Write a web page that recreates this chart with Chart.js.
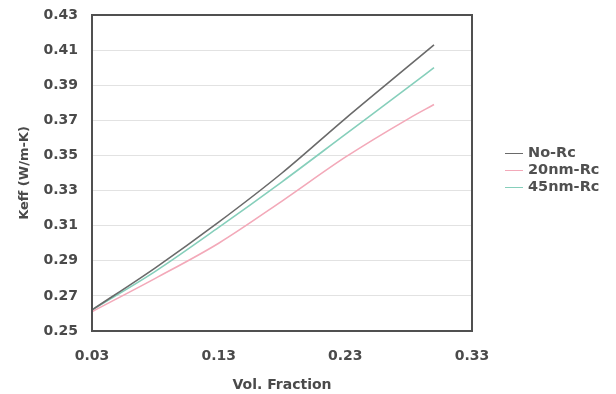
<!DOCTYPE html>
<html>
<head>
<meta charset="utf-8">
<script src="https://cdn.jsdelivr.net/npm/chart.js@4"></script>
<style>
  html, body { margin: 0; padding: 0; background: #fff; }
  #wrap { position: relative; width: 616px; height: 394px; overflow: hidden; }
  #legend { position: absolute; left: 505px; top: 144px; font: bold 14.5px 'DejaVu Sans', sans-serif; color: #505050; white-space: nowrap; }
  #legend div { height: 17px; line-height: 17px; }
  #legend span.swatch { display: inline-block; width: 18px; height: 0; border-top: 1.5px solid; vertical-align: middle; margin-right: 5px; }
</style>
</head>
<body>
<div id="wrap">
  <canvas id="keffChart" width="616" height="394"></canvas>
  <div id="legend"></div>
</div>
<script>
// volume fraction samples and Keff for each interface resistance case
const volFraction = [0.03, 0.08, 0.13, 0.18, 0.23, 0.28, 0.30];
const noRc    = [0.262, 0.286, 0.312, 0.340, 0.371, 0.401, 0.413];
const rc20nm  = [0.261, 0.280, 0.300, 0.324, 0.349, 0.371, 0.379];
const rc45nm  = [0.262, 0.284, 0.309, 0.335, 0.362, 0.389, 0.400];
const seriesNames = ['No-Rc', '20nm-Rc', '45nm-Rc'];
const seriesColors = ['#6a6a6a', '#f3a9b9', '#86cfbb'];

const textColor = '#4a4a4a';
const tickFont = { family: 'DejaVu Sans', size: 14, weight: 'bold' };
const xTitleFont = { family: 'DejaVu Sans', size: 14, weight: 'bold' };
const yTitleFont = { family: 'DejaVu Sans', size: 13, weight: 'bold' };

function toPoints(ys) {
    return volFraction.map((x, i) => ({ x: x, y: ys[i] }));
}

// plain box round the plot area
const frameBox = {
    id: 'frameBox',
    afterDraw(chart) {
        const a = chart.chartArea;
        const ctx = chart.ctx;
        ctx.save();
        ctx.strokeStyle = '#505050';
        ctx.lineWidth = 2;
        ctx.strokeRect(a.left, a.top, a.right - a.left, a.bottom - a.top);
        ctx.restore();
    }
};

const ctx = document.getElementById('keffChart').getContext('2d');
const chart = new Chart(ctx, {
    type: 'line',
    data: {
        datasets: [
            { label: seriesNames[0], data: toPoints(noRc), borderColor: seriesColors[0] },
            { label: seriesNames[1], data: toPoints(rc20nm), borderColor: seriesColors[1] },
            { label: seriesNames[2], data: toPoints(rc45nm), borderColor: seriesColors[2] }
        ]
    },
    options: {
        responsive: false,
        animation: false,
        elements: {
            line: { borderWidth: 1.6, cubicInterpolationMode: 'monotone' },
            point: { radius: 0 }
        },
        layout: { padding: { top: 15, right: 144, left: 0, bottom: 0 } },
        plugins: {
            tooltip: { enabled: false },
            legend: { display: false }
        },
        scales: {
            x: {
                type: 'linear',
                min: 0.03,
                max: 0.33,
                afterFit: s => { s.height = 63; s.paddingLeft = 0; s.paddingRight = 0; },
                grid: { display: false },
                border: { display: false },
                ticks: {
                    stepSize: 0.1,
                    color: textColor,
                    font: tickFont,
                    padding: 9,
                    maxRotation: 0,
                    callback: v => v.toFixed(2)
                },
                title: { display: true, text: 'Vol. Fraction', color: textColor, font: xTitleFont, padding: { top: 0, bottom: 0 } }
            },
            y: {
                min: 0.25,
                max: 0.43,
                afterFit: s => { s.width = 92; s.paddingTop = 0; s.paddingBottom = 0; },
                grid: { color: '#e2e2e2', drawTicks: false },
                border: { display: false },
                ticks: {
                    stepSize: 0.02,
                    color: textColor,
                    font: tickFont,
                    padding: 14,
                    callback: v => v.toFixed(2)
                },
                title: { display: true, text: 'Keff (W/m-K)', color: textColor, font: yTitleFont, padding: { top: 17 } }
            }
        }
    },
    plugins: [frameBox]
});

// legend beside the plot
const legendEl = document.getElementById('legend');
seriesNames.forEach((name, i) => {
    const row = document.createElement('div');
    row.innerHTML = '<span class="swatch" style="border-color:' + seriesColors[i] + '"></span>' + name;
    legendEl.appendChild(row);
});
</script>
</body>
</html>
